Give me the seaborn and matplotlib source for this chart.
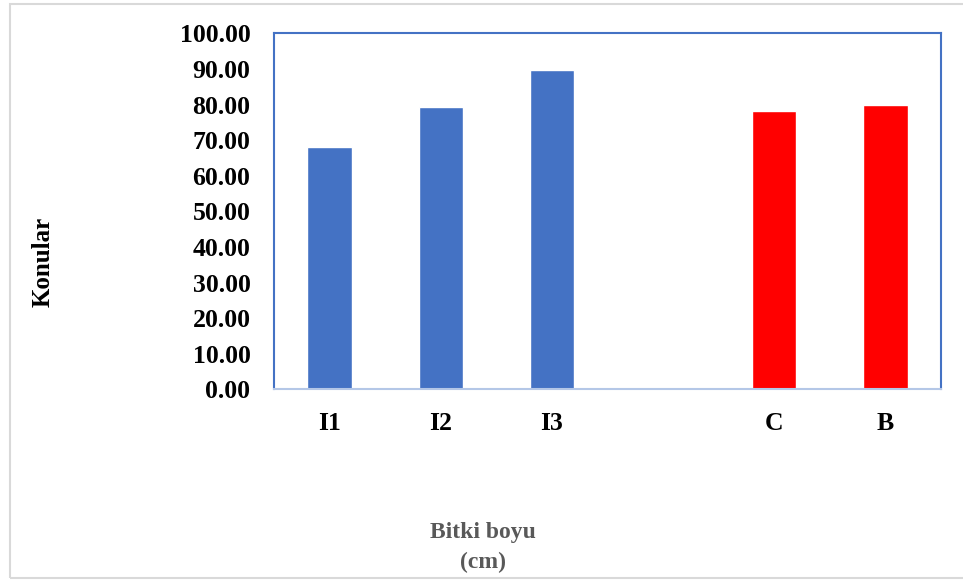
import matplotlib
matplotlib.use("Agg")
import matplotlib.pyplot as plt
from matplotlib.patches import Rectangle
import seaborn as sns
import pandas as pd

# Treatment groups and their values
categories = ["I1", "I2", "I3", "C", "B"]
values = [68.0, 79.3, 89.8, 78.3, 79.9]
bar_colors = ["#4472C4", "#4472C4", "#4472C4", "#FF0000", "#FF0000"]
# Slot order on the x axis (an empty slot separates the two groups)
slot_order = ["I1", "I2", "I3", " ", "C", "B"]
y_ticks = [0, 10, 20, 30, 40, 50, 60, 70, 80, 90, 100]
y_label = "Konular"
x_label = "Bitki boyu\n(cm)"

sns.set_theme(style="white")
plt.rcParams["font.family"] = ["Liberation Serif", "DejaVu Serif"]
plt.rcParams["font.weight"] = "bold"

df = pd.DataFrame({"grup": categories, "deger": values})
palette = dict(zip(categories, bar_colors))

fig = plt.figure(figsize=(9.63, 5.8), dpi=100)
ax = fig.add_axes([274 / 963, 1 - 389.3 / 580, (941 - 274) / 963, (389.3 - 33.3) / 580])

sns.barplot(data=df, x="grup", y="deger", hue="grup", order=slot_order,
            palette=palette, width=0.4, legend=False, saturation=1,
            ax=ax, zorder=2)

ax.set_xlim(-0.5, 5.5)
ax.set_ylim(0, 100)
ax.set_yticks(y_ticks)
ax.set_yticklabels([f"{v:.2f}" for v in y_ticks], fontsize=18.5,
                   fontweight="bold", color="black")
ax.set_xticks(range(len(slot_order)))
ax.set_xticklabels(slot_order, fontsize=18.5, fontweight="bold", color="black")
ax.tick_params(axis="y", length=0, pad=17)
ax.tick_params(axis="x", length=0, pad=16)
ax.set_xlabel("")
ax.set_ylabel("")

for side in ["left", "top", "right"]:
    ax.spines[side].set_color("#4472C4")
    ax.spines[side].set_linewidth(1.5)
ax.spines["bottom"].set_color("#B4C7E7")
ax.spines["bottom"].set_linewidth(1.5)
ax.spines["bottom"].set_zorder(3)

# Axis titles
fig.text(43 / 963, 1 - 262 / 580, y_label, rotation=90, ha="center", va="center",
         fontsize=18, fontweight="bold", color="black")
fig.text(483 / 963, 1 - 548 / 580, x_label, ha="center", va="center",
         fontsize=17, fontweight="bold", color="#595959", linespacing=1.55)

# Chart frame
fig.patches.append(Rectangle((10 / 963, 2 / 580), 1.2, 574 / 580,
                             transform=fig.transFigure, fill=False,
                             edgecolor="#D9D9D9", linewidth=1.5, zorder=0))

fig.savefig("out.png", dpi=100, facecolor="white")
